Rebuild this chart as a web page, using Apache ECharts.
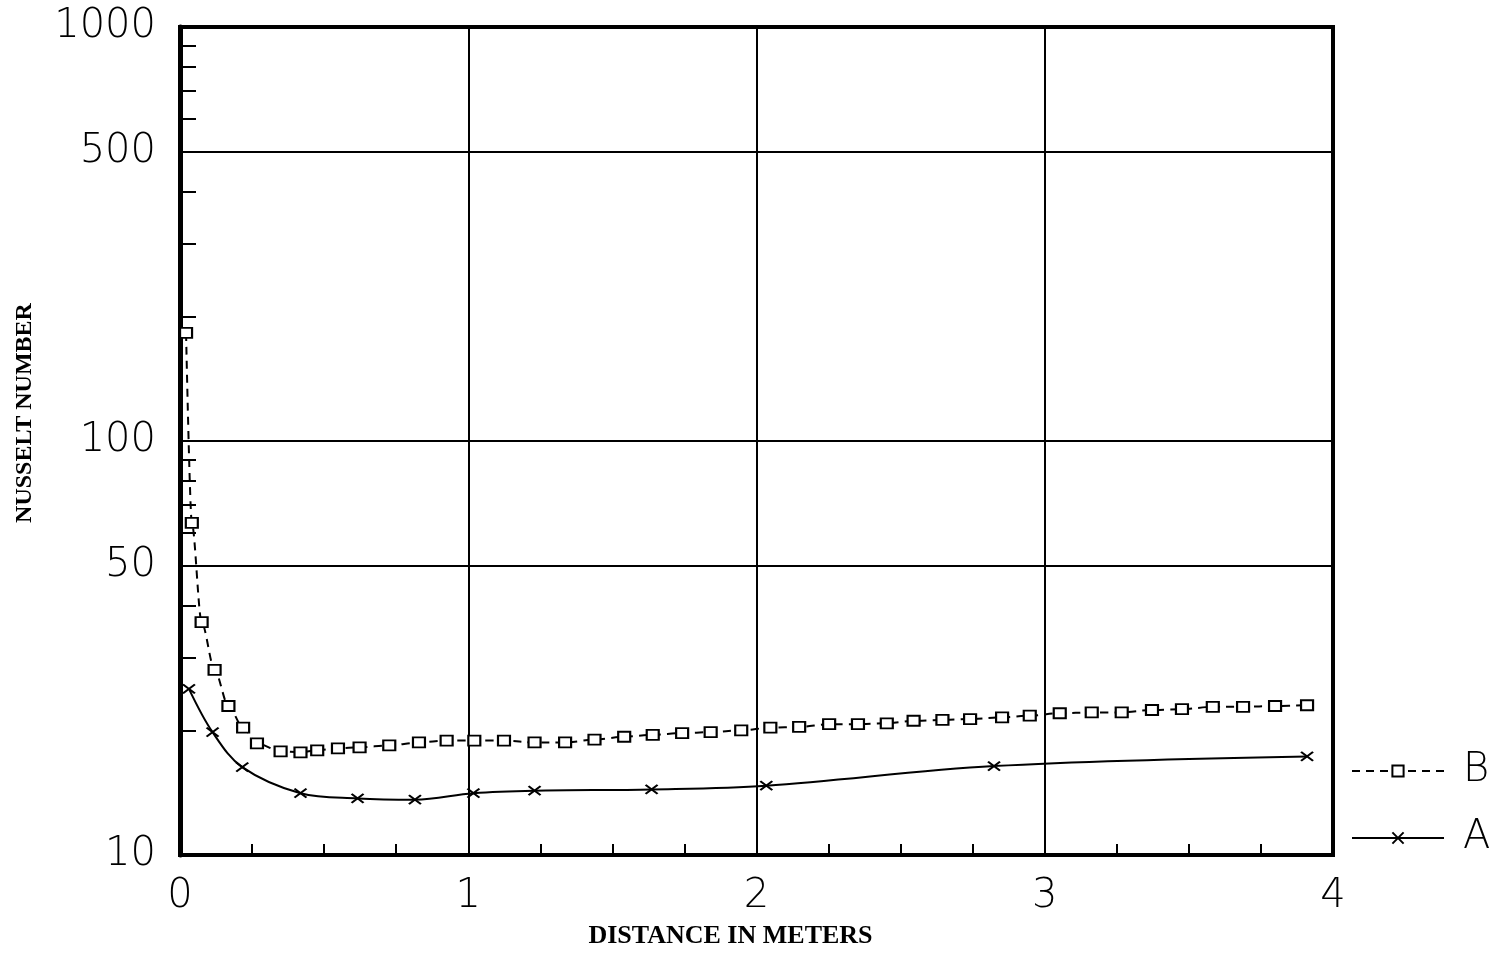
<!DOCTYPE html>
<html>
<head>
<meta charset="utf-8">
<script src="https://cdn.jsdelivr.net/npm/echarts@6/dist/echarts.min.js"></script>
<style>
html,body{margin:0;padding:0;background:#fff;}
#chart{width:1503px;height:953px;}
</style>
</head>
<body>
<div id="chart"></div>
<script>
// Series B (squares, dashed)
const bX = [0.021,0.041,0.075,0.12,0.168,0.219,0.267,0.349,0.418,0.476,0.548,0.623,0.726,0.829,0.925,1.021,1.124,1.23,1.336,1.438,1.541,1.64,1.742,1.841,1.947,2.048,2.148,2.252,2.352,2.452,2.545,2.645,2.741,2.852,2.948,3.052,3.163,3.267,3.372,3.476,3.583,3.688,3.799,3.91];
const bY = [182.4,63.4,36.5,28.0,22.9,20.3,18.6,17.8,17.7,17.9,18.1,18.2,18.4,18.7,18.9,18.9,18.9,18.7,18.7,19.0,19.3,19.5,19.7,19.8,20.0,20.3,20.4,20.7,20.7,20.8,21.1,21.2,21.3,21.5,21.7,22.0,22.1,22.1,22.4,22.5,22.8,22.8,22.9,23.0];
// Series A (x markers, solid)
const aX = [0.031,0.113,0.216,0.418,0.616,0.815,1.018,1.23,1.636,2.034,2.824,3.91];
const aY = [25.2,19.8,16.3,14.1,13.7,13.6,14.1,14.3,14.4,14.7,16.4,17.3];
// Axis ticks / labels
const xLabels = [0,1,2,3,4];
const yLabelValues = [10,50,100,500,1000];
const yMinorTicks = [20,30,40,60,70,80,90,200,300,400,600,700,800,900];
const yGridValues = [50,100,500];

const pairs = (xs, ys) => xs.map((x,i)=>[x, ys[i]]);
const labelFont = {fontFamily:'DejaVu Sans', fontWeight:200, fontSize:40, color:'#000'};
const xSym = 'path://M0,0L10,10M10,0L0,10';

const chart = echarts.init(document.getElementById('chart'), null, {renderer:'canvas'});
chart.setOption({
  animation:false,
  backgroundColor:'#fff',
  grid:{left:180, right:170, top:27, bottom:98, outerBoundsMode:'none', containLabel:false,
        show:true, borderColor:'#000', borderWidth:4, backgroundColor:'transparent'},
  legend:{
    orient:'vertical', left:1346, top:746, itemWidth:92, itemHeight:14, itemGap:27,
    data:['B','A'],
    textStyle:Object.assign({}, labelFont, {padding:[0,0,0,14]})
  },
  xAxis:{
    type:'value', min:0, max:4, interval:1,
    axisLine:{lineStyle:{color:'#000', width:4}},
    axisTick:{show:true, inside:true, length:11, lineStyle:{color:'#000', width:2}},
    minorTick:{show:true, splitNumber:4, length:11, lineStyle:{color:'#000', width:2}},
    splitLine:{show:true, lineStyle:{color:'#000', width:2}},
    axisLabel:Object.assign({margin:22, formatter:v=>xLabels.includes(v)?String(v):''}, labelFont),
    name:'DISTANCE IN METERS', nameLocation:'middle', nameGap:68,
    nameTextStyle:{fontFamily:'Liberation Serif', fontSize:26, fontWeight:'bold', color:'#000', padding:[0,52,0,0]}
  },
  yAxis:[{
    type:'log', logBase:10, min:10, max:1000,
    axisLine:{lineStyle:{color:'#000', width:5}},
    axisTick:{show:true, inside:true, length:16, customValues:yMinorTicks, lineStyle:{color:'#000', width:2}},
    splitLine:{show:false},
    axisLabel:Object.assign({margin:24, customValues:yLabelValues, formatter:v=>String(v)}, labelFont),
    name:'NUSSELT NUMBER', nameLocation:'middle', nameGap:143,
    nameTextStyle:{fontFamily:'Liberation Serif', fontSize:24, fontWeight:'bold', color:'#000', padding:[0,0,0,56]}
  },{
    type:'log', logBase:10, min:10, max:1000, position:'left',
    axisLine:{show:false},
    axisTick:{show:false, customValues:yGridValues},
    axisLabel:{show:false},
    splitLine:{show:true, lineStyle:{color:'#000', width:2}}
  }],
  series:[{
    name:'B', type:'line', data:pairs(bX,bY), yAxisIndex:0,
    smooth:0.3, smoothMonotone:'x',
    symbol:'rect', symbolSize:[12,10],
    lineStyle:{color:'#000', width:2, type:[8,6]},
    itemStyle:{color:'#fff', borderColor:'#000', borderWidth:2}
  },{
    name:'A', type:'line', data:pairs(aX,aY), yAxisIndex:0,
    smooth:0.35,
    symbol:xSym, symbolSize:[12,9],
    lineStyle:{color:'#000', width:2},
    itemStyle:{color:'#000', borderColor:'#000', borderWidth:2}
  }]
});
</script>
</body>
</html>
